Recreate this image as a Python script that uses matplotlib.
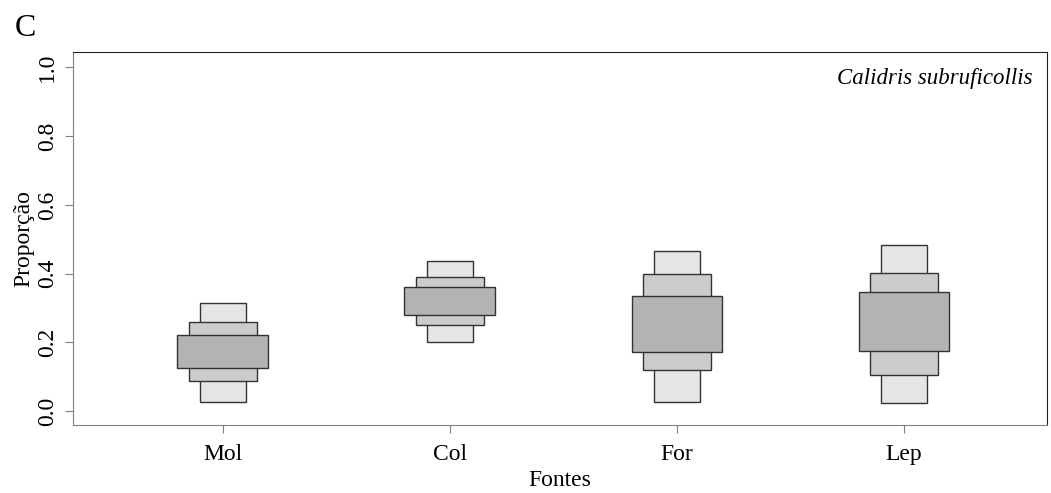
import numpy as np
import matplotlib.pyplot as plt
from matplotlib.patches import Rectangle

plt.rcParams['font.family'] = ['Liberation Serif', 'DejaVu Serif']

fontes = ['Mol', 'Col', 'For', 'Lep']

# credibility intervals (low, high)
ci95_low = [0.026, 0.200, 0.026, 0.023]
ci95_high = [0.316, 0.438, 0.467, 0.484]
ci75_low = [0.087, 0.252, 0.119, 0.104]
ci75_high = [0.261, 0.391, 0.400, 0.403]
ci50_low = [0.125, 0.281, 0.171, 0.174]
ci50_high = [0.223, 0.362, 0.336, 0.348]

fig = plt.figure(figsize=(10.51, 4.93), dpi=100)
ax = fig.add_axes([73 / 1051, 1 - 425 / 493, (1047 - 73) / 1051, (425 - 52) / 493])

x = np.arange(1, len(fontes) + 1)

# widest box = narrowest interval, drawn last so it sits on top
levels = [
    (ci95_low, ci95_high, 0.10, '#e5e5e5'),
    (ci75_low, ci75_high, 0.15, '#cccccc'),
    (ci50_low, ci50_high, 0.20, '#b3b3b3'),
]
for lo, hi, hw, col in levels:
    for xi, l, h in zip(x, lo, hi):
        ax.add_patch(Rectangle((xi - hw, l), 2 * hw, h - l,
                               facecolor=col, edgecolor='#333333', linewidth=1.0))

ax.set_xlim(0.34, 4.63)
ax.set_ylim(-0.04, 1.045)
ax.set_xticks(x)
ax.set_xticklabels(fontes, fontsize=17)
ax.set_yticks([0.0, 0.2, 0.4, 0.6, 0.8, 1.0])
ax.set_yticklabels(['0.0', '0.2', '0.4', '0.6', '0.8', '1.0'], fontsize=17,
                   rotation=90, va='center')
ax.tick_params(axis='both', colors='#808080', labelcolor='black', length=6)
ax.tick_params(axis='x', pad=8)
ax.tick_params(axis='y', pad=5)

for s in ['left', 'bottom']:
    ax.spines[s].set_color('#808080')
for s in ['top', 'right']:
    ax.spines[s].set_color('#222222')

ax.set_xlabel('Fontes', fontsize=17, labelpad=3)
ax.set_ylabel('Proporção', fontsize=17, labelpad=2)

ax.text(0.985, 0.93, 'Calidris subruficollis', transform=ax.transAxes,
        ha='right', va='center', fontsize=16.5, style='italic')
fig.text(15 / 1051, 1 - 29 / 493, 'C', fontsize=23, ha='left', va='center')

fig.savefig('out.png', dpi=100)
